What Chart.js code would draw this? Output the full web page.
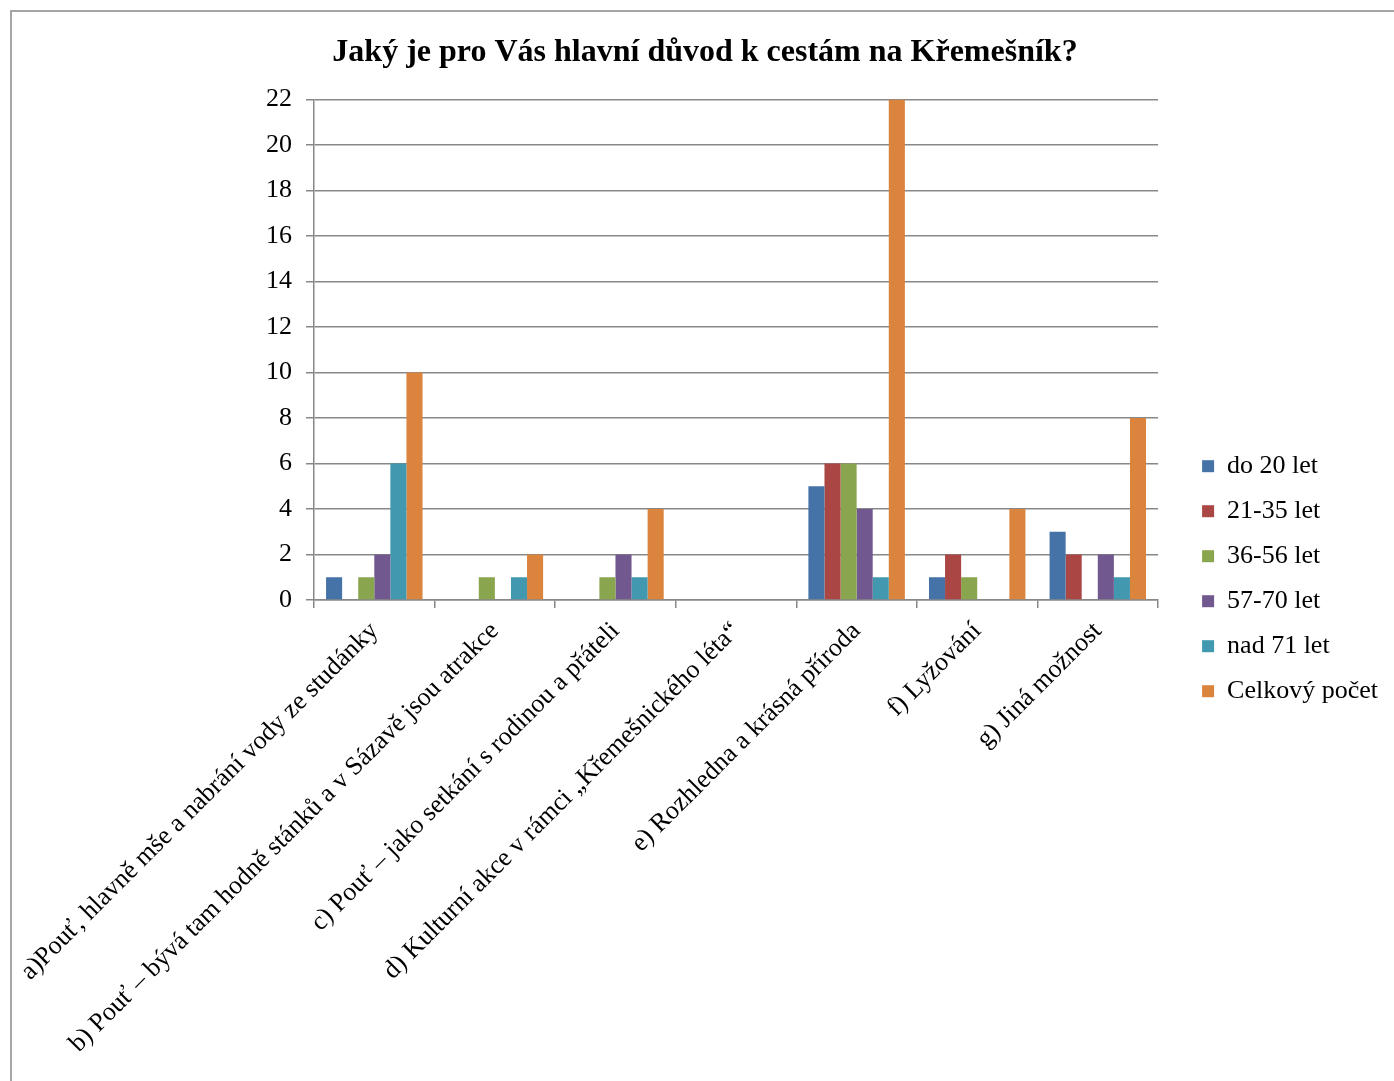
<!DOCTYPE html>
<html>
<head>
<meta charset="utf-8">
<script src="https://cdn.jsdelivr.net/npm/chart.js@4.4.1/dist/chart.umd.min.js"></script>
<style>
  html, body { margin: 0; padding: 0; background: #fff; overflow: hidden; }
  #frame { position: absolute; left: 10px; top: 10px; width: 1500px; height: 1200px;
           border-left: 2px solid #a6a6a6; border-top: 2px solid #a6a6a6; }
  #wrap { position: absolute; left: 12px; top: 12px; width: 1390px; height: 1069px; }
</style>
</head>
<body>
<div id="frame"></div>
<div id="wrap"><canvas id="c"></canvas></div>
<script>
  // kategorie (důvody) a věkové skupiny
  const categories = [
    'a)Pouť, hlavně mše a nabrání vody ze studánky',
    'b) Pouť – bývá tam hodně stánků a v Sázavě jsou atrakce',
    'c) Pouť – jako setkání s rodinou a přáteli',
    'd) Kulturní akce v rámci „Křemešnického léta“',
    'e) Rozhledna a krásná příroda',
    'f) Lyžování',
    'g) Jiná možnost',
  ];
  const do20     = [1, 0, 0, 0, 5, 1, 3];
  const v21_35   = [0, 0, 0, 0, 6, 2, 2];
  const v36_56   = [1, 1, 1, 0, 6, 1, 0];
  const v57_70   = [2, 0, 2, 0, 4, 0, 2];
  const nad71    = [6, 1, 1, 0, 1, 0, 1];
  const celkem   = [10, 2, 4, 0, 22, 4, 8];
  const yTicks   = [0, 2, 4, 6, 8, 10, 12, 14, 16, 18, 20, 22];

  const serif = 'Liberation Serif';
  const gridC = '#888888';

  const ds = (label, data, color) => ({
    label, data, backgroundColor: color, borderWidth: 0,
    barPercentage: 1, categoryPercentage: 0.8,
  });

  new Chart(document.getElementById('c'), {
    type: 'bar',
    data: {
      labels: categories,
      datasets: [
        ds('do 20 let', do20, '#4572A7'),
        ds('21-35 let', v21_35, '#AA4643'),
        ds('36-56 let', v36_56, '#89A54E'),
        ds('57-70 let', v57_70, '#71588F'),
        ds('nad 71 let', nad71, '#4198AF'),
        ds('Celkový počet', celkem, '#DB843D'),
      ],
    },
    options: {
      responsive: true, maintainAspectRatio: false, animation: false,
      layout: { padding: { left: 10, right: 14 } },
      plugins: {
        title: {
          display: true, text: 'Jaký je pro Vás hlavní důvod k cestám na Křemešník?',
          color: '#000', font: { family: serif, size: 32, weight: 'bold' },
          padding: { top: 22, bottom: 27 },
        },
        legend: {
          position: 'right',
          // prázdný titulek jen posouvá položky legendy dolů
          title: { display: true, text: '', padding: { top: 25, bottom: 25 } },
          labels: { color: '#000', boxWidth: 12, boxHeight: 12, padding: 19, font: { family: serif, size: 26 } },
        },
        tooltip: { enabled: false },
      },
      scales: {
        x: {
          grid: { display: true, drawOnChartArea: false, drawTicks: true, tickLength: 8, color: gridC, lineWidth: 1.5, offset: true },
          border: { display: true, color: gridC, width: 1.5 },
          ticks: { color: '#000', autoSkip: false, minRotation: 45, maxRotation: 45, padding: 8, font: { family: serif, size: 26 } },
          afterFit: (s) => { s.height = 481; s.paddingLeft = 0; s.paddingRight = 0; },
        },
        y: {
          min: 0, max: 22,
          afterBuildTicks: (s) => { s.ticks = yTicks.map((v) => ({ value: v })); },
          grid: { color: gridC, lineWidth: 1.5, tickLength: 8 },
          border: { display: true, color: gridC, width: 1.5 },
          ticks: { color: '#000', padding: 14, font: { family: serif, size: 26 } },
          afterFit: (s) => { s.width = 292; },
        },
        // neviditelná osa = mezera mezi grafem a legendou
        gap: {
          axis: 'y', position: 'right', display: true,
          grid: { display: false, drawTicks: false }, ticks: { display: false }, border: { display: false },
          afterFit: (s) => { s.width = 25; },
        },
      },
    },
  });
</script>
</body>
</html>
